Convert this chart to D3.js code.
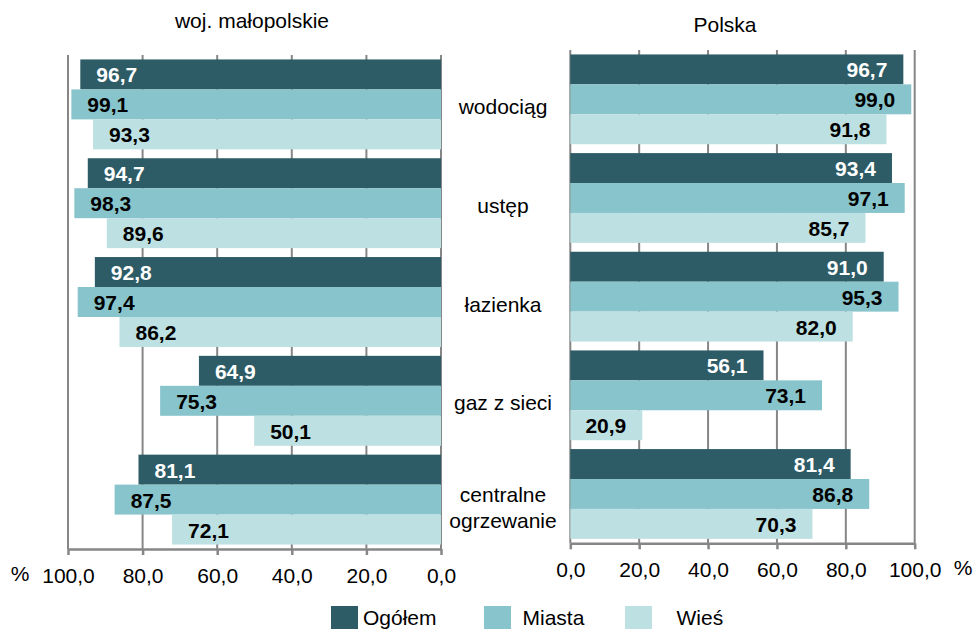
<!DOCTYPE html>
<html><head><meta charset="utf-8">
<script src="https://cdn.jsdelivr.net/npm/d3@7"></script>
<style>
html,body{margin:0;padding:0;background:#fff;}
svg{display:block;font-family:"Liberation Sans",Arial,sans-serif;}
</style></head>
<body>
<svg id="chart" width="976" height="629"></svg>
<script>
const categories = ["wodociąg", "ustęp", "łazienka", "gaz z sieci", "centralne ogrzewanie"];
const categoryLines = [["wodociąg"], ["ustęp"], ["łazienka"], ["gaz z sieci"], ["centralne", "ogrzewanie"]];
const series = ["Ogółem", "Miasta", "Wieś"];
const malopolskieOgolem = [96.7, 94.7, 92.8, 64.9, 81.1];
const malopolskieMiasta = [99.1, 98.3, 97.4, 75.3, 87.5];
const malopolskieWies   = [93.3, 89.6, 86.2, 50.1, 72.1];
const polskaOgolem = [96.7, 93.4, 91.0, 56.1, 81.4];
const polskaMiasta = [99.0, 97.1, 95.3, 73.1, 86.8];
const polskaWies   = [91.8, 85.7, 82.0, 20.9, 70.3];
const tickValues = [0, 20, 40, 60, 80, 100];
const panelTitles = ["woj. małopolskie", "Polska"];

const colors = {"Ogółem": "#2D5B66", "Miasta": "#88C4CB", "Wieś": "#BDE0E2"};
const labelColors = {"Ogółem": "#ffffff", "Miasta": "#000000", "Wieś": "#000000"};
const fmt = v => d3.format(".1f")(v).replace(".", ",");
const FS = 21;

const svg = d3.select("#chart");

function panel(cfg) {
  const data = categories.map((c, i) => ({cat: c, vals: series.map((s, j) => ({s, v: cfg.values[j][i]}))}));
  const x = d3.scaleLinear().domain([0, 100]).range(cfg.xRange);
  const y = d3.scaleBand().domain(categories).range([cfg.top, cfg.bottom]).paddingInner(0.09).paddingOuter(0.045);
  const y1 = d3.scaleBand().domain(series).range([0, y.bandwidth()]);
  const g = svg.append("g");

  // gridlines
  g.append("g").selectAll("line").data(tickValues).join("line")
    .attr("x1", d => x(d)).attr("x2", d => x(d))
    .attr("y1", cfg.top).attr("y2", cfg.bottom)
    .attr("stroke", "#868686").attr("stroke-width", 2);

  // bars
  const grp = g.append("g").selectAll("g").data(data).join("g")
    .attr("transform", d => `translate(0,${y(d.cat)})`);
  grp.selectAll("rect").data(d => d.vals).join("rect")
    .attr("x", d => Math.min(x(0), x(d.v)))
    .attr("width", d => Math.abs(x(d.v) - x(0)))
    .attr("y", d => y1(d.s)).attr("height", y1.bandwidth())
    .attr("fill", d => colors[d.s]);
  grp.selectAll("text").data(d => d.vals).join("text")
    .attr("x", d => x(d.v) + cfg.labelOffset)
    .attr("y", d => y1(d.s) + y1.bandwidth() / 2 + 8)
    .attr("text-anchor", cfg.anchor)
    .attr("font-size", FS).attr("font-weight", "bold")
    .attr("fill", d => labelColors[d.s])
    .text(d => fmt(d.v));

  // axis
  const axis = d3.axisBottom(x).tickValues(tickValues).tickSize(6).tickSizeOuter(0).tickPadding(10).tickFormat(fmt);
  const ag = g.append("g").attr("transform", `translate(0,${cfg.bottom})`).call(axis);
  ag.select(".domain").attr("stroke", "#868686").attr("stroke-width", 2.5);
  ag.selectAll(".tick line").attr("stroke", "#868686").attr("stroke-width", 2.5);
  ag.selectAll(".tick text").attr("font-size", FS).attr("font-family", "Liberation Sans, Arial, sans-serif").attr("fill", "#000").attr("dy", "0.85em");

  g.append("text").attr("x", cfg.pctX).attr("y", cfg.bottom + 32).attr("text-anchor", "middle")
    .attr("font-size", FS).text("%");
  g.append("text").attr("x", cfg.titleX).attr("y", cfg.titleY).attr("text-anchor", "middle")
    .attr("font-size", FS).text(cfg.title);
  return y;
}

const yL = panel({values: [malopolskieOgolem, malopolskieMiasta, malopolskieWies], xRange: [441, 68], top: 55, bottom: 549,
  labelOffset: 16, anchor: "start", pctX: 20, titleX: 252, titleY: 28, title: panelTitles[0]});
panel({values: [polskaOgolem, polskaMiasta, polskaWies], xRange: [570.3, 914.7], top: 50, bottom: 543.3,
  labelOffset: -16, anchor: "end", pctX: 963, titleX: 725, titleY: 32, title: panelTitles[1]});

// category labels
const cl = svg.append("g");
categories.forEach((c, i) => {
  const lines = categoryLines[i];
  const cy = yL(c) + yL.bandwidth() / 2 + (lines.length > 1 ? 6 : 0);
  lines.forEach((t, k) => {
    cl.append("text").attr("x", 503).attr("y", cy + (k - (lines.length - 1) / 2) * 26 + 9.5)
      .attr("text-anchor", "middle").attr("font-size", FS).text(t);
  });
});

// legend
const legendX = [331, 484, 625];
const legendTextX = [363, 522.5, 676.5];
const lg = svg.append("g");
series.forEach((s, i) => {
  lg.append("rect").attr("x", legendX[i]).attr("y", 606).attr("width", 27).attr("height", 27).attr("fill", colors[s]);
  lg.append("text").attr("x", legendTextX[i]).attr("y", 625)
    .attr("font-size", FS).text(s);
});
</script>
</body></html>
